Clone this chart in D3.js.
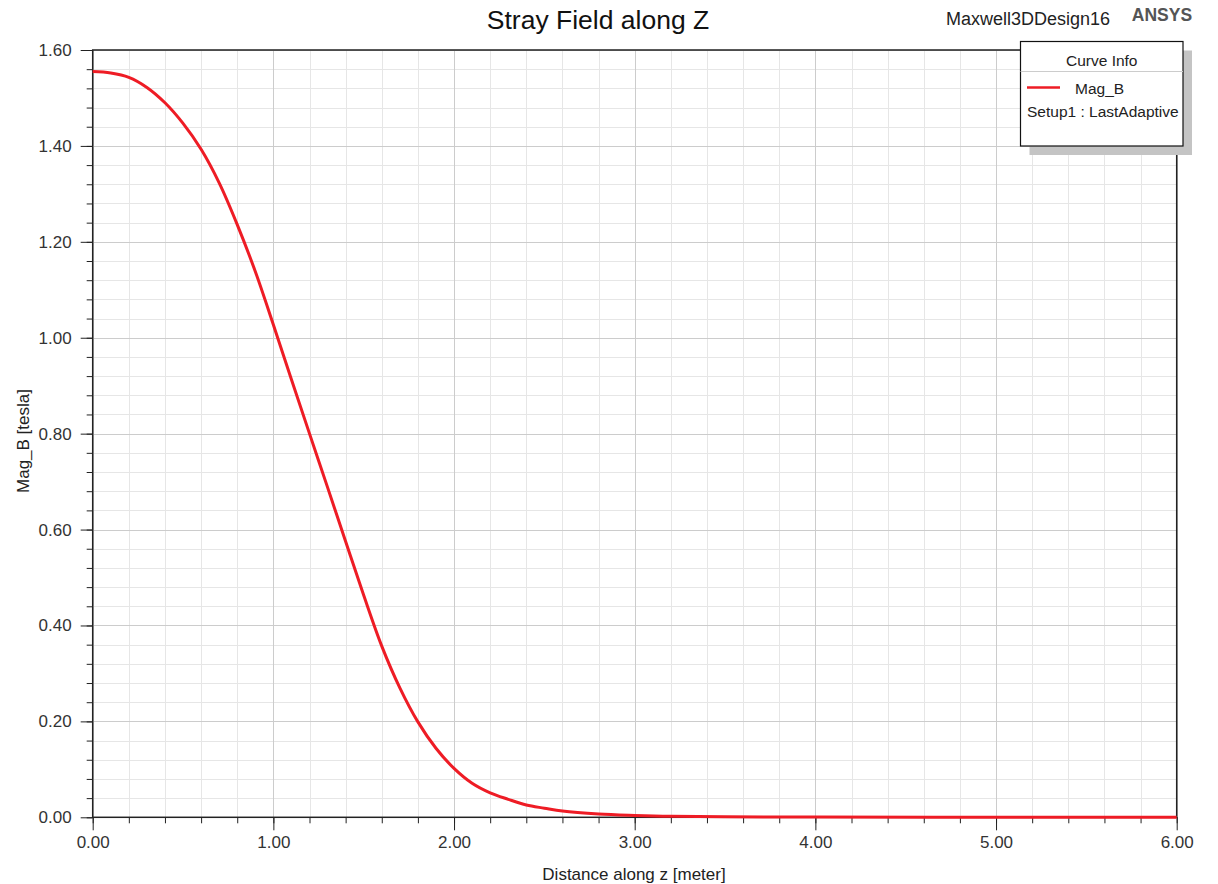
<!DOCTYPE html>
<html>
<head>
<meta charset="utf-8">
<script src="https://cdn.jsdelivr.net/npm/d3@7"></script>
<style>
  html, body { margin: 0; padding: 0; background: #fff; }
  svg { display: block; font-family: "Liberation Sans", Arial, sans-serif; }
</style>
</head>
<body>
<svg id="chart" width="1218" height="884"></svg>
<script>
// ---- data ----
const distance = [0.0, 0.1, 0.2, 0.3, 0.4, 0.5, 0.6, 0.7, 0.8, 0.9, 1.0, 1.1, 1.2, 1.3, 1.4, 1.5, 1.6, 1.7, 1.8, 1.9, 2.0, 2.1, 2.2, 2.3, 2.4, 2.5, 2.6, 2.8, 3.0, 3.2, 3.5, 4.0, 5.0, 6.0];
const magB = [1.555, 1.552, 1.543, 1.522, 1.490, 1.447, 1.393, 1.323, 1.236, 1.138, 1.027, 0.913, 0.800, 0.688, 0.575, 0.463, 0.357, 0.270, 0.199, 0.144, 0.102, 0.071, 0.051, 0.0375, 0.0256, 0.019, 0.013, 0.007, 0.004, 0.002, 0.001, 0.0005, 0.0002, 0.0001];
const xTicks = [0, 1, 2, 3, 4, 5, 6];
const yTicks = [0, 0.2, 0.4, 0.6, 0.8, 1.0, 1.2, 1.4, 1.6];
const titleText = "Stray Field along Z";
const designText = "Maxwell3DDesign16";
const brandText = "ANSYS";
const xLabel = "Distance along z [meter]";
const yLabel = "Mag_B [tesla]";
const legendTitle = "Curve Info";
const seriesName = "Mag_B";
const seriesSetup = "Setup1 : LastAdaptive";

// ---- layout ----
const svg = d3.select("#chart");
const pLeft = 92.7, pRight = 1176.7, pTop = 50, pBottom = 817.3;
const x = d3.scaleLinear().domain([0, 6]).range([pLeft, pRight]);
const y = d3.scaleLinear().domain([0, 1.6]).range([pBottom, pTop]);
const red = "#ee1c25";

const xMinor = d3.range(0, 6.0001, 0.2);
const yMinor = d3.range(0, 1.6001, 0.04);

// minor grid
const g = svg.append("g");
g.selectAll(".vmin").data(xMinor).join("line")
  .attr("x1", d => Math.round(x(d)) + 0.5).attr("x2", d => Math.round(x(d)) + 0.5)
  .attr("y1", pTop).attr("y2", pBottom)
  .attr("stroke", "#e6e6e6").attr("stroke-width", 1);
g.selectAll(".hmin").data(yMinor).join("line")
  .attr("y1", d => Math.round(y(d)) + 0.5).attr("y2", d => Math.round(y(d)) + 0.5)
  .attr("x1", pLeft).attr("x2", pRight)
  .attr("stroke", "#e6e6e6").attr("stroke-width", 1);
// major grid
g.selectAll(".vmaj").data(xTicks).join("line")
  .attr("x1", d => Math.round(x(d)) + 0.5).attr("x2", d => Math.round(x(d)) + 0.5)
  .attr("y1", pTop).attr("y2", pBottom)
  .attr("stroke", "#cccccc").attr("stroke-width", 1);
g.selectAll(".hmaj").data(yTicks).join("line")
  .attr("y1", d => Math.round(y(d)) + 0.5).attr("y2", d => Math.round(y(d)) + 0.5)
  .attr("x1", pLeft).attr("x2", pRight)
  .attr("stroke", "#cccccc").attr("stroke-width", 1);

// axes
const xAxisMinor = d3.axisBottom(x).tickValues(xMinor).tickSize(6).tickFormat("");
const xAxis = d3.axisBottom(x).tickValues(xTicks).tickSize(13).tickPadding(6).tickFormat(d3.format(".2f"));
const yAxisMinor = d3.axisLeft(y).tickValues(yMinor).tickSize(6).tickFormat("");
const yAxis = d3.axisLeft(y).tickValues(yTicks).tickSize(12).tickPadding(9).tickFormat(d3.format(".2f"));

function styleAxis(sel) {
  sel.select(".domain").remove();
  sel.selectAll("line").attr("stroke", "#222");
  sel.selectAll("text").attr("fill", "#333").style("font-size", "17px")
     .style("font-family", "'Liberation Sans', Arial, sans-serif");
}
svg.append("g").attr("transform", `translate(0,${pBottom})`).call(xAxisMinor).call(styleAxis);
svg.append("g").attr("transform", `translate(0,${pBottom})`).call(xAxis).call(styleAxis);
svg.append("g").attr("transform", `translate(${pLeft},0)`).call(yAxisMinor).call(styleAxis);
svg.append("g").attr("transform", `translate(${pLeft},0)`).call(yAxis).call(styleAxis);

// frame
svg.append("rect").attr("x", pLeft).attr("y", pTop)
  .attr("width", pRight - pLeft).attr("height", pBottom - pTop)
  .attr("fill", "none").attr("stroke", "#222").attr("stroke-width", 1.5);

// curve
const line = d3.line().x((d, i) => x(distance[i])).y(d => y(d)).curve(d3.curveCatmullRom.alpha(0.5));
svg.append("path").datum(magB).attr("d", line)
  .attr("fill", "none").attr("stroke", red).attr("stroke-width", 3);

// titles
svg.append("text").attr("x", 598).attr("y", 29).attr("text-anchor", "middle")
  .style("font-size", "26.5px").attr("fill", "#111").text(titleText);
svg.append("text").attr("x", 1028).attr("y", 25).attr("text-anchor", "middle")
  .style("font-size", "18px").attr("fill", "#222").text(designText);
svg.append("text").attr("x", 1162).attr("y", 21).attr("text-anchor", "middle")
  .style("font-size", "17.5px").style("font-weight", "bold").attr("fill", "#555")
  .text(brandText);
svg.append("text").attr("x", 634).attr("y", 880).attr("text-anchor", "middle")
  .style("font-size", "17px").attr("fill", "#222").text(xLabel);
svg.append("text").attr("transform", `translate(29,441) rotate(-90)`).attr("text-anchor", "middle")
  .style("font-size", "17px").attr("fill", "#222").text(yLabel);

// legend
const lx = 1020.5, ly = 41.5, lw = 162.5, lh = 104.5;
svg.append("rect").attr("x", lx + 9).attr("y", ly + 9).attr("width", lw).attr("height", lh)
  .attr("fill", "#c4c4c4");
svg.append("rect").attr("x", lx).attr("y", ly).attr("width", lw).attr("height", lh)
  .attr("fill", "#fff").attr("stroke", "#111").attr("stroke-width", 1.2);
svg.append("line").attr("x1", lx).attr("x2", lx + lw).attr("y1", 71.5).attr("y2", 71.5)
  .attr("stroke", "#ccc");
svg.append("text").attr("x", lx + lw / 2).attr("y", 66).attr("text-anchor", "middle")
  .style("font-size", "15.5px").attr("fill", "#222").text(legendTitle);
svg.append("line").attr("x1", 1027).attr("x2", 1060).attr("y1", 87.5).attr("y2", 87.5)
  .attr("stroke", red).attr("stroke-width", 2.5);
svg.append("text").attr("x", 1075).attr("y", 94).style("font-size", "15.5px").attr("fill", "#222").text(seriesName);
svg.append("text").attr("x", 1027).attr("y", 116.5).style("font-size", "15.5px").attr("fill", "#222").text(seriesSetup);
</script>
</body>
</html>
